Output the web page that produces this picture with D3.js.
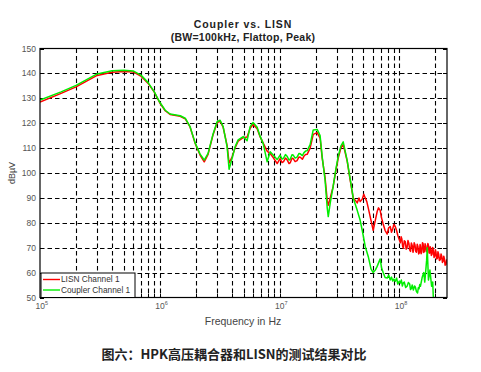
<!DOCTYPE html>
<html><head><meta charset="utf-8">
<script src="https://cdn.jsdelivr.net/npm/d3@7"></script>
<style>body{margin:0;background:#fff}svg{display:block}</style>
</head><body>
<svg id="c" width="481" height="372"></svg>
<script>
const titleLines = ["Coupler vs. LISN", "(BW=100kHz, Flattop, Peak)"];
const xLabel = "Frequency in Hz";
const yLabel = "dBµV";
const caption = "图六：HPK高压耦合器和LISN的测试结果对比";
const seriesNames = ["LISN Channel 1", "Coupler Channel 1"];
const yTicks = [50,60,70,80,90,100,110,120,130,140,150];
const xDecades = [5,6,7,8];

const lisnFreq = [1e5,1.5e5,2e5,3e5,4e5,5e5,6e5,7e5,8e5,9e5,1e6,1.11e6,1.22e6,1.48e6,1.63e6,1.79e6,1.97e6,2.17e6,2.35e6,2.53e6,2.79e6,3.01e6,3.19e6,3.38e6,3.65e6,3.79e6,4.02e6,4.26e6,4.51e6,4.97e6,5.36e6,5.68e6,6.01e6,6.5e6,6.89e6,7.3e6,7.88e6,8.35e6,8.85e6,9.55e6,1.01e7,1.05e7,1.08e7,1.12e7,1.16e7,1.2e7,1.23e7,1.27e7,1.3e7,1.35e7,1.4e7,1.45e7,1.49e7,1.55e7,1.6e7,1.65e7,1.7e7,1.8e7,1.91e7,2.06e7,2.18e7,2.27e7,2.4e7,2.5e7,2.55e7,2.65e7,2.8e7,2.95e7,3.09e7,3.25e7,3.4e7,3.67e7,3.89e7,4.12e7,4.3e7,4.45e7,4.6e7,4.71e7,4.9e7,5.05e7,5.19e7,5.35e7,5.5e7,5.8e7,6.05e7,6.3e7,6.53e7,6.7e7,6.92e7,7.1e7,7.33e7,7.6e7,7.92e7,8.15e7,8.39e7,8.6e7,8.8e7,9.0e7,9.24e7,9.5e7,9.7e7,1.0e8,1.02e8,1.035e8,1.05e8,1.065e8,1.08e8,1.1e8,1.12e8,1.14e8,1.16e8,1.18e8,1.2e8,1.22e8,1.24e8,1.26e8,1.28e8,1.3e8,1.31e8,1.33e8,1.35e8,1.37e8,1.39e8,1.41e8,1.43e8,1.45e8,1.47e8,1.49e8,1.5e8,1.52e8,1.54e8,1.56e8,1.58e8,1.6e8,1.62e8,1.64e8,1.66e8,1.68e8,1.71e8,1.73e8,1.75e8,1.77e8,1.79e8,1.81e8,1.83e8,1.85e8,1.87e8,1.9e8,1.92e8,1.95e8,1.97e8,2.0e8,2.02e8,2.05e8,2.08e8,2.1e8,2.13e8,2.16e8,2.2e8,2.23e8,2.26e8,2.29e8,2.32e8,2.35e8,2.38e8,2.41e8,2.45e8,2.48e8,2.51e8];
const lisnDb = [128.5,132,134.6,139.2,140.5,140.8,140.6,138.8,136,132.5,128.2,125,123.5,122.8,121.8,118.5,112,107.2,104.5,107.5,115.5,120.2,120.8,118.4,111,104,106.5,110.2,112.8,114.2,114.5,118,119.5,117.8,114.5,112,108.8,107.8,106.2,103.8,105.8,104.2,104.6,106,105.2,103.8,104.2,105.9,105.8,104.6,105,106.4,106.3,105.5,106.8,107.4,107.5,110,115.5,116.2,114,106,98,89,87,90,94.5,101,106,110,111.5,104.8,97,90,89,88,90,88.5,89.5,91.5,90,88.5,86,81,77,81,84.5,86,85,82,79.5,77,75.5,78,78.5,76.2,77.5,79.3,78.5,76.8,75,73.2,72,74.4,73.5,70.6,69.8,72.8,72.5,69.4,70,72.9,71.8,69.1,68.5,71.9,70.9,68.2,68.8,72,71.2,68.6,68.2,71.4,70.5,67.5,67.9,71.3,70.6,67.6,68.3,72,71.5,68.1,68.6,71.6,70.8,68.4,69.2,71.7,71,67.9,67.8,70.4,69.6,66.9,67.2,70.1,69,66.1,66.4,69.2,68.3,65.5,65.8,68.4,67.4,64.9,65.2,67.5,66.6,64.1,64.5,66.6,65.5,63,63.2,65.1,64];

const couplerFreq = [1e5,1.5e5,2e5,3e5,4e5,5e5,6e5,7e5,8e5,9e5,1e6,1.11e6,1.22e6,1.48e6,1.63e6,1.79e6,1.97e6,2.17e6,2.35e6,2.53e6,2.79e6,3.01e6,3.19e6,3.38e6,3.65e6,3.79e6,4.02e6,4.26e6,4.51e6,4.97e6,5.36e6,5.68e6,6.01e6,6.5e6,6.89e6,7.3e6,7.88e6,8.35e6,8.85e6,9.55e6,1.01e7,1.05e7,1.08e7,1.12e7,1.16e7,1.2e7,1.23e7,1.27e7,1.3e7,1.35e7,1.4e7,1.45e7,1.49e7,1.55e7,1.6e7,1.65e7,1.7e7,1.8e7,1.91e7,2.06e7,2.18e7,2.27e7,2.4e7,2.5e7,2.55e7,2.65e7,2.8e7,2.95e7,3.09e7,3.25e7,3.4e7,3.67e7,3.89e7,4.12e7,4.45e7,4.71e7,4.9e7,5.19e7,5.5e7,5.8e7,6.05e7,6.3e7,6.53e7,6.92e7,7.1e7,7.33e7,7.6e7,7.92e7,8.15e7,8.39e7,8.6e7,8.8e7,9.0e7,9.24e7,9.5e7,9.7e7,1.0e8,1.02e8,1.04e8,1.06e8,1.08e8,1.1e8,1.13e8,1.16e8,1.19e8,1.22e8,1.24e8,1.26e8,1.28e8,1.31e8,1.34e8,1.36e8,1.39e8,1.42e8,1.44e8,1.46e8,1.48e8,1.5e8,1.55e8,1.6e8,1.63e8,1.66e8,1.69e8,1.71e8,1.73e8,1.75e8,1.8e8,1.86e8,1.9e8,1.92e8,1.97e8,2.02e8,2.06e8];
const couplerDb = [129.3,132.6,135.2,139.8,141.1,141.3,141,139.2,136.3,132.6,128.4,125.2,123.7,123,122,118.6,112.2,107.6,105.2,107.9,115.8,120.6,121.2,118.6,110.5,101.5,106,110.6,113.3,114.6,113,118.6,120.3,118.4,114.7,111.8,104.5,108.5,107.2,105.4,107.2,105.6,106,107.4,106.6,105.2,105.6,107.3,107.2,106,106.4,107.8,107.7,107,108.2,108.8,109,111.4,117.3,117.5,115,106.5,97,86,82.5,88,94.5,101.5,106.8,110.8,112.5,105,97.5,90,85,81,77,70.5,66.5,61.5,60,61,62.5,65.5,62,60,58,57.8,59,57,58.2,56.6,57.4,56.5,57.8,55.4,56.6,55.8,57,54.6,55.9,56.2,54,54.5,56,55.4,53.2,53.6,55,53,54.6,54.2,52.4,51.8,53.9,53.5,55.2,54.5,58,60,56.2,60.5,65,70,63.5,57,61,54.5,56.2,50.5,48,47];

const svg = d3.select("#c");
const x = d3.scaleLog().domain([1e5, 2.5e8]).range([40, 447]);
const y = d3.scaleLinear().domain([50, 150]).range([297.5, 48.5]);
const font = "'Liberation Sans', Arial, sans-serif";

const xTickVals = [];
xDecades.forEach(d => { for (let m = 1; m <= 9; m++) { const v = m * Math.pow(10, d); if (v > 1e5 && v < 2.5e8) xTickVals.push(v); } });

const grid = svg.append("g").attr("stroke", "#000").attr("stroke-width", 1.1).attr("stroke-dasharray", "4.5,3");
grid.selectAll("line.vx").data(xTickVals).join("line")
  .attr("x1", d => Math.round(x(d)) + 0.5).attr("x2", d => Math.round(x(d)) + 0.5)
  .attr("y1", y(150)).attr("y2", y(50));
grid.selectAll("line.hy").data(yTicks.slice(1, -1)).join("line")
  .attr("x1", x(1e5)).attr("x2", x(2.5e8))
  .attr("y1", d => Math.round(y(d)) + 0.5).attr("y2", d => Math.round(y(d)) + 0.5);

const tk = svg.append("g").attr("stroke", "#000").attr("stroke-width", 1);
xTickVals.forEach(v => {
  const px = Math.round(x(v)) + 0.5;
  tk.append("line").attr("x1", px).attr("x2", px).attr("y1", y(150)).attr("y2", y(150) + 4);
  tk.append("line").attr("x1", px).attr("x2", px).attr("y1", y(50)).attr("y2", y(50) - 4);
});
yTicks.forEach(v => {
  const py = Math.round(y(v)) + 0.5;
  tk.append("line").attr("x1", x(1e5)).attr("x2", x(1e5) + 4).attr("y1", py).attr("y2", py);
  tk.append("line").attr("x1", x(2.5e8)).attr("x2", x(2.5e8) - 4).attr("y1", py).attr("y2", py);
});

svg.append("clipPath").attr("id", "clip").append("rect")
  .attr("x", x(1e5)).attr("y", y(150)).attr("width", x(2.5e8) - x(1e5)).attr("height", y(50) - y(150));

const line = d3.line().x(d => x(d[0])).y(d => y(d[1]));
const plot = svg.append("g").attr("clip-path", "url(#clip)");
plot.append("path").datum(lisnFreq.map((f, i) => [f, lisnDb[i]]))
  .attr("d", line).attr("fill", "none").attr("stroke", "#ff0000").attr("stroke-width", 1.5).attr("stroke-linejoin", "round");
plot.append("path").datum(couplerFreq.map((f, i) => [f, couplerDb[i]]))
  .attr("d", line).attr("fill", "none").attr("stroke", "#00ee00").attr("stroke-width", 1.5).attr("stroke-linejoin", "round");

svg.append("rect").attr("x", x(1e5)).attr("y", y(150)).attr("width", x(2.5e8) - x(1e5)).attr("height", y(50) - y(150))
  .attr("fill", "none").attr("stroke", "#000").attr("stroke-width", 1.2);

svg.append("g").selectAll("text").data(yTicks).join("text")
  .attr("x", 36).attr("y", d => y(d) + 3).attr("text-anchor", "end")
  .attr("font-family", font).attr("font-size", 8.5).attr("fill", "#555").text(d => d);

xDecades.forEach(d => {
  const t = svg.append("text").attr("x", x(Math.pow(10, d)) - 4.5).attr("y", 309)
    .attr("font-family", font).attr("font-size", 8.5).attr("fill", "#555");
  t.append("tspan").text("10");
  t.append("tspan").attr("dy", -4).attr("font-size", 5.5).text(d);
});

svg.append("g").selectAll("text").data(titleLines).join("text")
  .attr("x", 243).attr("y", (d, i) => 28 + i * 13).attr("text-anchor", "middle")
  .attr("font-family", font).attr("font-weight", "bold").attr("font-size", 10.5)
  .attr("letter-spacing", (d, i) => i === 0 ? 0.9 : 0.25).attr("fill", "#222").text(d => d);

svg.append("text").attr("x", 243).attr("y", 325).attr("text-anchor", "middle")
  .attr("font-family", font).attr("font-size", 10.5).attr("fill", "#444").text(xLabel);

svg.append("text").attr("transform", "translate(15,173) rotate(-90)").attr("text-anchor", "middle")
  .attr("font-family", font).attr("font-size", 9).attr("fill", "#444").text(yLabel);

const lg = svg.append("g");
lg.append("rect").attr("x", 41).attr("y", 273).attr("width", 94).attr("height", 24.5)
  .attr("fill", "#fff").attr("stroke", "#000").attr("stroke-width", 1);
const colors = ["#ff0000", "#00ee00"];
seriesNames.forEach((n, i) => {
  const ly = 279.5 + i * 10.5;
  lg.append("line").attr("x1", 43).attr("x2", 60).attr("y1", ly).attr("y2", ly).attr("stroke", colors[i]).attr("stroke-width", 1.4);
  lg.append("text").attr("x", 61).attr("y", ly + 2.8).attr("font-family", font).attr("font-size", 8.3).attr("fill", "#333").text(n);
});

svg.append("text").attr("x", 234).attr("y", 359).attr("text-anchor", "middle")
  .attr("font-family", "'Noto Sans CJK SC', sans-serif").attr("font-weight", "bold").attr("font-size", 13).attr("fill", "#222").text(caption);
</script>
</body></html>
